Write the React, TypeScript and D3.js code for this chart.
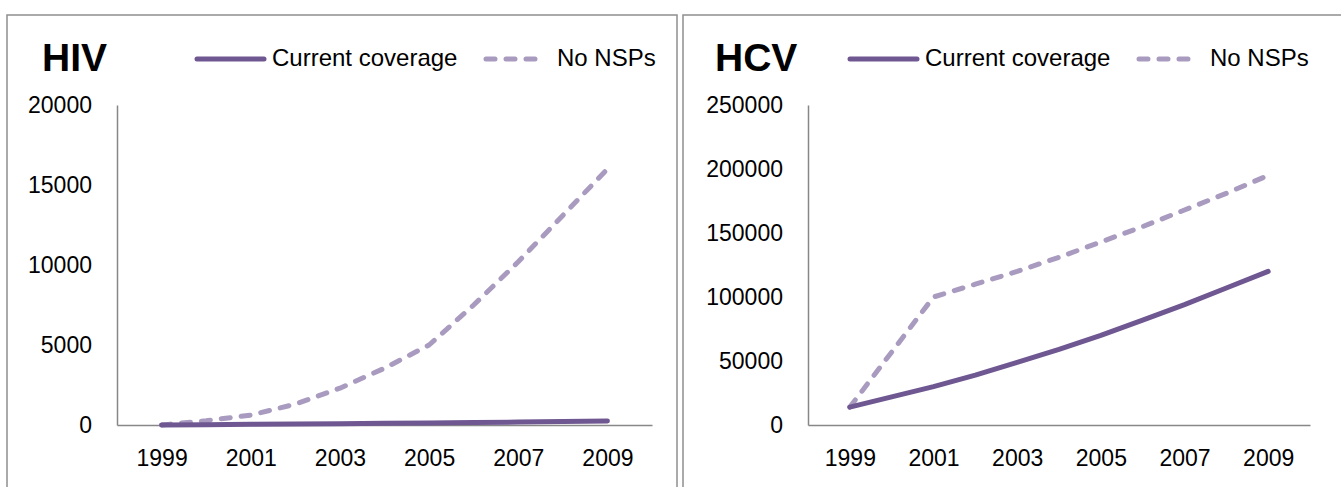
import React, { useEffect, useRef } from 'react';
import * as d3 from 'd3';

const years = [1999, 2000, 2001, 2002, 2003, 2004, 2005, 2006, 2007, 2008, 2009];
const xTickYears = [1999, 2001, 2003, 2005, 2007, 2009];

const hivCurrent = [0, 20, 40, 60, 80, 105, 130, 155, 180, 215, 250];
const hivNoNsp = [0, 270, 620, 1300, 2300, 3550, 5000, 7500, 10200, 13100, 16000];
const hivTicks = [0, 5000, 10000, 15000, 20000];

const hcvCurrent = [14000, 22000, 30000, 39000, 49000, 59000, 70000, 82000, 94000, 107000, 120000];
const hcvNoNsp = [14000, 57000, 100000, 110000, 120000, 131000, 143000, 155000, 168000, 181000, 195000];
const hcvTicks = [0, 50000, 100000, 150000, 200000, 250000];

const seriesNames = ['Current coverage', 'No NSPs'];

const DARK = '#6f5791';
const LIGHT = '#a99bbf';
const FONT = "'Liberation Sans', Arial, sans-serif";
const DASH = '9 11';

const W = 1341;
const H = 487;

export default function App() {
  const svgRef = useRef<SVGSVGElement>(null);

  useEffect(() => {
    if (!svgRef.current) return;
    const svg = d3.select(svgRef.current);
    svg.selectAll('*').remove();

    const panels = [
      { x: 7, w: 670, title: 'HIV', titleX: 35, legendX: 188, axisX: 110, plotW: 535, ticks: hivTicks, current: hivCurrent, noNsp: hivNoNsp },
      { x: 683, w: 660, title: 'HCV', titleX: 32, legendX: 165, axisX: 125, plotW: 502, ticks: hcvTicks, current: hcvCurrent, noNsp: hcvNoNsp },
    ];

    panels.forEach(p => {
      const g = svg.append('g').attr('transform', `translate(${p.x},0)`);

      // frame
      g.append('rect')
        .attr('x', 0).attr('y', 15)
        .attr('width', p.w).attr('height', 520)
        .attr('fill', 'none')
        .attr('stroke', '#8f8f8f')
        .attr('stroke-width', 1.5);

      const x = d3.scaleLinear().domain([1998, 2010]).range([p.axisX, p.axisX + p.plotW]);
      const y = d3.scaleLinear().domain([0, d3.max(p.ticks)!]).range([425, 105]);

      const yAxis = g.append('g')
        .attr('transform', `translate(${p.axisX},0)`)
        .call(d3.axisLeft(y).tickValues(p.ticks).tickFormat(d3.format('d')).tickSize(0).tickPadding(25));
      const xAxis = g.append('g')
        .attr('transform', `translate(0,425)`)
        .call(d3.axisBottom(x).tickValues(xTickYears).tickFormat(d3.format('d')).tickSize(0).tickPadding(25));

      [yAxis, xAxis].forEach(a => {
        a.select('.domain').attr('stroke', '#878787').attr('stroke-width', 1.5);
        a.selectAll('text')
          .attr('fill', '#000')
          .attr('font-size', '23px')
          .attr('font-family', FONT);
      });

      const line = (vals: number[]) => d3.line<number>()
        .x((d, i) => x(years[i]))
        .y(d => y(d))(vals);

      g.append('path')
        .attr('d', line(p.noNsp))
        .attr('fill', 'none')
        .attr('stroke', LIGHT)
        .attr('stroke-width', 5)
        .attr('stroke-dasharray', DASH)
        .attr('stroke-linecap', 'round')
        .attr('stroke-linejoin', 'round');

      g.append('path')
        .attr('d', line(p.current))
        .attr('fill', 'none')
        .attr('stroke', DARK)
        .attr('stroke-width', 5)
        .attr('stroke-linecap', 'round')
        .attr('stroke-linejoin', 'round');

      // title
      g.append('text')
        .attr('x', p.titleX).attr('y', 57)
        .attr('dy', '0.35em')
        .attr('font-family', FONT)
        .attr('font-weight', 'bold')
        .attr('font-size', '39px')
        .text(p.title);

      // legend
      const lg = g.append('g').attr('transform', `translate(${p.legendX},59)`);
      lg.append('line')
        .attr('x1', 2).attr('x2', 69)
        .attr('stroke', DARK).attr('stroke-width', 5).attr('stroke-linecap', 'round');
      lg.append('text')
        .attr('x', 77).attr('y', -1).attr('dy', '0.35em')
        .attr('font-family', FONT).attr('font-size', '24px')
        .text(seriesNames[0]);
      lg.append('line')
        .attr('x1', 291).attr('x2', 340)
        .attr('stroke', LIGHT).attr('stroke-width', 5)
        .attr('stroke-dasharray', DASH).attr('stroke-linecap', 'round');
      lg.append('text')
        .attr('x', 362).attr('y', -1).attr('dy', '0.35em')
        .attr('font-family', FONT).attr('font-size', '24px')
        .text(seriesNames[1]);
    });
  }, []);

  return (
    <svg
      ref={svgRef}
      width={W}
      height={H}
      style={{ position: 'absolute', left: 0, top: 0, background: '#fff' }}
    />
  );
}
